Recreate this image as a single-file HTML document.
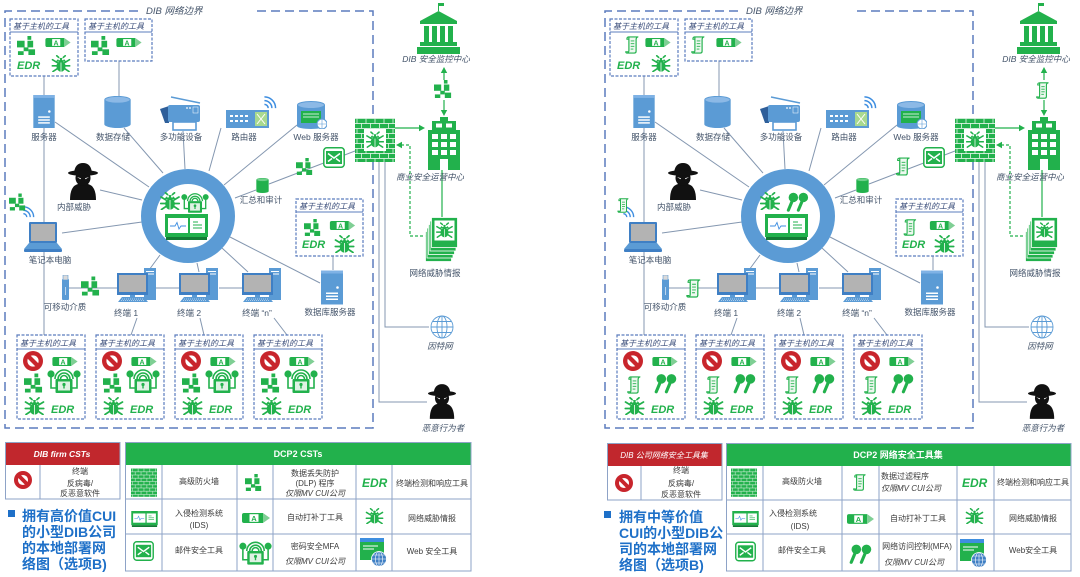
<!DOCTYPE html>
<html><head><meta charset="utf-8"><style>
html,body{margin:0;padding:0;background:#fff;width:1080px;height:577px;overflow:hidden}
svg{display:block}
.lb{font-size:8.5px;fill:#44546a;text-anchor:middle}
.li{font-size:8.5px;fill:#44546a;text-anchor:middle;font-style:italic}
.hd{font-size:8px;fill:#3a4d7a;font-style:italic}
.edr{font-size:11px;font-weight:bold;font-style:italic;fill:#22b14c}
.a{font-size:7px;font-weight:bold;fill:#22b14c;text-anchor:middle}
.lg{font-size:8px;fill:#3b3b3b;text-anchor:middle}
.lgi{font-size:8px;fill:#3b3b3b;text-anchor:middle;font-style:italic}
.tt{font-size:14px;font-weight:bold;fill:#1e70c8}
</style></head><body>
<svg width="1080" height="577" viewBox="0 0 1080 577" xmlns="http://www.w3.org/2000/svg" font-family="'Liberation Sans','Noto Sans CJK SC',sans-serif">
<defs>
<pattern id="brick" width="9" height="10" patternUnits="userSpaceOnUse"><rect width="9" height="10" fill="#22b14c"/><path d="M0 0.5H9M0 5.5H9M2 0.5V5.5M6.5 5.5V10.5" stroke="#fff" stroke-width="0.7"/></pattern>
<symbol id="dlp" viewBox="0 0 20 20"><g fill="#22b14c"><rect x="0" y="5" width="8" height="7"/><rect x="11" y="0" width="4" height="4"/><rect x="11" y="5" width="6" height="7"/><rect x="7" y="12" width="5" height="4"/><rect x="1" y="16" width="6" height="4"/><rect x="12" y="14" width="7" height="6"/></g></symbol>
<symbol id="av" viewBox="0 0 28 10"><path d="M2 0H21V10H2Q0 10 0 8V2Q0 0 2 0Z" fill="#22b14c"/><path d="M21 0L28 5L21 10Z" fill="#7fcf94"/><rect x="7.5" y="1.2" width="9" height="7.6" fill="#fff"/></symbol>
<symbol id="bug" viewBox="0 0 20 18"><g stroke="#22b14c" stroke-width="1.7" stroke-linecap="round" fill="none"><path d="M6 8L1 5M5.5 11.5H0.8M6 14.5L1.5 17.5M14 8L19 5M14.5 11.5H19.2M14 14.5L18.5 17.5M7.5 2.5L5.5 0.8M12.5 2.5L14.5 0.8"/></g><path d="M4.5 7Q10 -1 15.5 7Z" fill="#22b14c"/><ellipse cx="10" cy="12" rx="4.8" ry="5.6" fill="#22b14c"/><circle cx="8" cy="4.6" r="1" fill="#fff"/><circle cx="12" cy="4.6" r="1" fill="#fff"/><path d="M10 8V17.5" stroke="#fff" stroke-width="0.8"/></symbol>
<symbol id="lock" viewBox="0 0 34 26"><g fill="none" stroke="#22b14c" stroke-width="1.6"><path d="M4 10V21H9M30 10V21H25"/><path d="M11 12A6 6 0 0 1 23 12M8 12A9 9 0 0 1 26 12M13.5 12A3.5 3.5 0 0 1 20.5 12"/></g><circle cx="4" cy="7" r="3.6" fill="#22b14c"/><circle cx="30" cy="7" r="3.6" fill="#22b14c"/><rect x="8.5" y="12" width="17" height="14" rx="1" fill="#22b14c"/><rect x="11" y="14.5" width="12" height="9" fill="#dff2e4"/><circle cx="17" cy="17.5" r="1.6" fill="#22b14c"/><rect x="16.3" y="18" width="1.4" height="3.5" fill="#22b14c"/></symbol>
<symbol id="nos" viewBox="0 0 20 20"><circle cx="10" cy="10" r="10" fill="#c8252c"/><circle cx="10" cy="10" r="5.6" fill="#fff"/><path d="M5 5L15 15" stroke="#c8252c" stroke-width="4.2"/></symbol>
<symbol id="scr" viewBox="0 0 16 20"><path d="M4 1H14Q12 1.5 12 4V17Q12 19 10 19H2Q4 18.5 4 16Z" fill="#eef8f0" stroke="#22b14c" stroke-width="1.3" stroke-linejoin="round"/><path d="M4 1Q1.5 1 1.8 3.5H4M2 19Q0.5 19 0.5 17.5H3" fill="none" stroke="#22b14c" stroke-width="1.2"/><path d="M6 5.5H10M6 8.5H10M6 11.5H10M6 14.5H9" stroke="#22b14c" stroke-width="1"/></symbol>
<symbol id="pins" viewBox="0 0 26 22"><g stroke="#22b14c" stroke-width="3.4" stroke-linecap="round"><path d="M8.5 8L3.5 20M19.5 8L14.5 20"/></g><circle cx="9" cy="6" r="5.2" fill="#22b14c"/><circle cx="20" cy="6" r="5.2" fill="#22b14c"/></symbol>
<symbol id="srv" viewBox="0 0 22 34"><rect width="22" height="34" fill="#5b9bd5"/><rect width="22" height="3" fill="#7fb2e5"/><circle cx="16.5" cy="17" r="1.3" fill="#fff"/><g fill="#fff"><rect x="5" y="22" width="12" height="1.5"/><rect x="5" y="25" width="12" height="1.5"/><rect x="5" y="28" width="12" height="1.5"/></g></symbol>
<symbol id="term" viewBox="0 0 40 34"><rect x="27" y="0" width="12" height="32" fill="#5b9bd5"/><g fill="#fff"><rect x="29" y="3" width="8" height="1"/><rect x="29" y="5.5" width="8" height="1"/></g><rect x="0" y="5" width="31" height="22" fill="#3f7fc4"/><rect x="2" y="7" width="27" height="17" fill="#b3b3b3"/><rect x="13" y="27" width="5" height="2" fill="#5b9bd5"/><path d="M1 34L5 29H27L31 34Z" fill="#5b9bd5"/><path d="M5 31H27M4 32.5H28" stroke="#fff" stroke-width="0.5" stroke-dasharray="1 1"/></symbol>
<symbol id="cyl" viewBox="0 0 28 34"><path d="M0 4V30A14 4 0 0 0 28 30V4Z" fill="#5b9bd5"/><ellipse cx="14" cy="4" rx="13.5" ry="3.6" fill="#8cb9e6" stroke="#5b9bd5"/></symbol>
<symbol id="gcyl" viewBox="0 0 28 34"><path d="M0 4V30A14 4 0 0 0 28 30V4Z" fill="#22b14c"/><ellipse cx="14" cy="4" rx="13.5" ry="3.6" fill="#6fd08a" stroke="#22b14c"/></symbol>
<symbol id="prn" viewBox="0 0 41 35"><path d="M11 1L40 7" stroke="#5b9bd5" stroke-width="1.5"/><path d="M0 13L9 10V27L5 27Z" fill="#2f5f9a"/><rect x="8" y="9" width="32" height="17" rx="2" fill="#5b9bd5"/><circle cx="27" cy="12" r="0.9" fill="#fff"/><circle cx="30" cy="12" r="0.9" fill="#fff"/><rect x="33" y="11" width="5" height="6" fill="none" stroke="#fff" stroke-width="0.5"/><rect x="13" y="26" width="23" height="8" fill="#fff" stroke="#5b9bd5" stroke-width="1.6"/></symbol>
<symbol id="rtr" viewBox="0 0 43 18"><rect width="43" height="18" fill="#5b9bd5"/><g fill="#fff"><rect x="4" y="5" width="3" height="2"/><rect x="9" y="5" width="3" height="2"/><rect x="14" y="5" width="3" height="2"/><rect x="19" y="5" width="3" height="2"/><rect x="4" y="10" width="3" height="2"/><rect x="9" y="10" width="3" height="2"/><rect x="14" y="10" width="3" height="2"/><rect x="19" y="10" width="3" height="2"/></g><rect x="29" y="2" width="12" height="14" fill="#a8d98f"/><path d="M31 4L39 14M39 4L31 14" stroke="#fff" stroke-width="1"/></symbol>
<symbol id="wifi" viewBox="0 0 14 14"><g fill="none" stroke="#3e8ee0" stroke-width="1.6"><path d="M1 9A4 4 0 0 1 5 13M1 5A8 8 0 0 1 9 13M1 1A12 12 0 0 1 13 13"/></g></symbol>
<symbol id="web" viewBox="0 0 30 28"><path d="M0 4V25A14 3 0 0 0 28 25V4Z" fill="#5b9bd5"/><ellipse cx="14" cy="4" rx="13.5" ry="3.5" fill="#8cb9e6" stroke="#5b9bd5"/><rect x="4" y="10" width="20" height="12" fill="#22b14c"/><path d="M6 13H22M6 16H22" stroke="#fff" stroke-width="0.8"/><circle cx="25" cy="23" r="5" fill="#fff" stroke="#5b9bd5"/><path d="M20 23H30M25 18V28" stroke="#5b9bd5" stroke-width="0.6"/></symbol>
<symbol id="fw" viewBox="0 0 40 44"><rect width="40" height="44" fill="url(#brick)"/><rect x="9" y="11" width="22" height="22" fill="#fff"/><use href="#bug" x="11" y="13" width="18" height="17"/></symbol>
<symbol id="fwp" viewBox="0 0 40 44"><rect width="40" height="44" fill="url(#brick)"/></symbol>
<symbol id="mail" viewBox="0 0 22 21"><rect x="0.8" y="0.8" width="20.4" height="19.4" rx="3" fill="#fff" stroke="#22b14c" stroke-width="1.5"/><rect x="3" y="4" width="16" height="13" fill="#22b14c"/><path d="M5 6.5L11 11L17 6.5M5 14.5L9 11.5M17 14.5L13 11.5" fill="none" stroke="#fff" stroke-width="1.5"/></symbol>
<symbol id="ids" viewBox="0 0 43 26"><rect width="43" height="23" fill="#22b14c"/><rect x="3" y="4" width="20" height="15" fill="#fff"/><rect x="25" y="4" width="15" height="15" fill="#fff"/><path d="M5 12H10L12 8.5L14 15L16 12H21" fill="none" stroke="#3e8ee0" stroke-width="0.9"/><path d="M28 8H33M28 11H37M28 14H37" stroke="#22b14c" stroke-width="1"/><rect x="1" y="23" width="41" height="3" fill="#137a34"/></symbol>
<symbol id="ofc" viewBox="0 0 32 53"><g fill="#22b14c"><rect x="12" y="0" width="8" height="4"/><rect x="4" y="4" width="24" height="9"/><rect x="0" y="13" width="32" height="40"/></g><g fill="#fff"><rect x="8" y="6.5" width="6" height="4"/><rect x="18" y="6.5" width="6" height="4"/><rect x="4" y="17" width="6" height="5"/><rect x="13" y="17" width="6" height="5"/><rect x="22" y="17" width="6" height="5"/><rect x="4" y="25" width="6" height="5"/><rect x="13" y="25" width="6" height="5"/><rect x="22" y="25" width="6" height="5"/><rect x="4" y="33" width="6" height="5"/><rect x="13" y="33" width="6" height="5"/><rect x="22" y="33" width="6" height="5"/><rect x="12" y="42" width="8" height="11"/></g></symbol>
<symbol id="gov" viewBox="0 0 43 51"><g fill="#22b14c"><rect x="21" y="0" width="1" height="8"/><rect x="22" y="0" width="5" height="3"/><path d="M3 18L21.5 8L40 18Z"/><rect x="3" y="18" width="37" height="3"/><rect x="7" y="23" width="5" height="16"/><rect x="15" y="23" width="5" height="16"/><rect x="23" y="23" width="5" height="16"/><rect x="31" y="23" width="5" height="16"/><rect x="3" y="39" width="37" height="4"/><rect x="0" y="44" width="43" height="7"/></g></symbol>
<symbol id="intel" viewBox="0 0 33 45"><g fill="#22b14c" stroke="#fff" stroke-width="0.8"><rect x="0.5" y="14.5" width="26" height="30"/><rect x="2" y="11" width="26" height="30"/><rect x="3.5" y="7.5" width="26" height="30"/><rect x="5" y="4" width="26" height="30"/><rect x="6.5" y="0.5" width="26" height="30"/></g><rect x="9.5" y="3.5" width="20" height="20" fill="#fff"/><use href="#bug" x="11" y="5" width="17" height="16"/></symbol>
<symbol id="glb" viewBox="0 0 26 24"><g fill="none" stroke="#5b9bd5" stroke-width="0.9"><circle cx="13" cy="12" r="11"/><ellipse cx="13" cy="12" rx="5" ry="11"/><path d="M13 1V23M2 12H24M4 6.5H22M4 17.5H22"/></g></symbol>
<symbol id="hk" viewBox="0 0 32 38"><path d="M3 38Q3 24 11 22H21Q29 24 29 38Z" fill="#111"/><ellipse cx="16" cy="16" rx="7.5" ry="8" fill="#111"/><path d="M7 11Q8 1 16 1Q24 1 25 11Z" fill="#111"/><ellipse cx="16" cy="11" rx="15" ry="2.8" fill="#111"/><path d="M10 15L14 16.2L13.5 17.2Z M22 15L18 16.2L18.5 17.2Z" fill="#fff"/></symbol>
<symbol id="lap" viewBox="0 0 38 30"><rect x="5" y="0" width="28" height="21" rx="1" fill="#3f7fc4"/><rect x="7" y="2" width="24" height="17" fill="#b3b3b3"/><path d="M0 27L5 21H33L38 27Z" fill="#5b9bd5"/><rect x="0" y="27" width="38" height="3" rx="1" fill="#3f7fc4"/></symbol>
<symbol id="usb" viewBox="0 0 7 25"><rect x="0" y="4" width="7" height="21" rx="1" fill="#5b9bd5"/><rect x="1" y="0" width="5" height="5" fill="#d9d9d9" stroke="#5b9bd5" stroke-width="0.6"/><path d="M3.5 12V20" stroke="#fff" stroke-width="0.6"/></symbol>
<symbol id="wtool" viewBox="0 0 28 29"><rect width="24" height="22" fill="#22b14c"/><rect width="24" height="4" fill="#3e8ee0"/><path d="M3 8H18M3 11H14" stroke="#fff" stroke-width="1"/><circle cx="19" cy="21" r="7.5" fill="#3f7fc4" stroke="#fff" stroke-width="0.8"/><g fill="none" stroke="#fff" stroke-width="0.6"><ellipse cx="19" cy="21" rx="3.5" ry="7.5"/><path d="M11.5 21H26.5M19 13.5V28.5M13 17H25M13 25H25"/></g></symbol>

<g id="common">
 <path d="M138 11H5V428H373V11H254" fill="none" stroke="#5b7cbd" stroke-width="1.5" stroke-dasharray="9 5"/>
 <g stroke="#8497b0" stroke-width="1" fill="none">
  <path d="M44 76V95M119 61V96M44 128V335"/>
  <path d="M55 122L149 187M124 128L163 173M183 131L185 169M221 128L209 171M297 125L224 185M100 190L142 200M62 233L142 222M160 255L149 270M197 263L199 272M222 248L248 272M230 237L320 283M235 198L256 190M269 184L355 151"/>
  <path d="M69 288H117M156 288H179M219 288H242"/>
  <path d="M137 318L131 335M200 318L204 335M274 318L287 335M333 256V270"/>
  <path d="M379 162V402H427M385 162V327H429"/>
 </g>
 <g stroke="#22b14c" stroke-width="1.2" fill="none">
  <path d="M395 128H420M444 72V111M442 170V217"/>
  <path d="M428 236H410V145H401" stroke-dasharray="3 2"/>
 </g>
 <g fill="#22b14c">
  <path d="M425 128l-6-3.2v6.4z"/>
  <path d="M444 67l-3.2 6h6.4z"/><path d="M444 116l-3.2-6h6.4z"/>
  <path d="M396 145l6-3.2v6.4z"/>
 </g>
 <circle cx="188" cy="216" r="39.5" fill="#fff" stroke="#5b9bd5" stroke-width="15"/>
 <g fill="#fff" stroke="#5b7cbd" stroke-width="1.2" stroke-dasharray="3 1.5">
  <rect x="10" y="19" width="68" height="57"/><rect x="85" y="19" width="67" height="42"/><rect x="296" y="199" width="67" height="57"/>
  <rect x="17" y="335" width="68" height="84"/><rect x="96" y="335" width="68" height="84"/><rect x="175" y="335" width="68" height="84"/><rect x="254" y="335" width="68" height="84"/>
 </g>
 <path d="M10 32H78M85 32H152M296 212H363M17 349H85M96 349H164M175 349H243M254 349H322" stroke="#5b7cbd" stroke-width="1"/>
 <use href="#av" x="45" y="38" width="26" height="9"/><use href="#av" x="116" y="38" width="26" height="9"/><use href="#av" x="329" y="221" width="27" height="9"/>
 <use href="#av" x="52" y="357" width="26" height="9"/><use href="#av" x="131" y="357" width="26" height="9"/><use href="#av" x="210" y="357" width="26" height="9"/><use href="#av" x="289" y="357" width="26" height="9"/>
 <use href="#bug" x="51" y="55" width="20" height="17"/><use href="#bug" x="334" y="235" width="21" height="18"/>
 <use href="#bug" x="24" y="397" width="21" height="18"/><use href="#bug" x="103" y="397" width="21" height="18"/><use href="#bug" x="182" y="397" width="21" height="18"/><use href="#bug" x="261" y="397" width="21" height="18"/>
 <use href="#nos" x="23" y="351" width="20" height="20"/><use href="#nos" x="102" y="351" width="20" height="20"/><use href="#nos" x="181" y="351" width="20" height="20"/><use href="#nos" x="260" y="351" width="20" height="20"/>
 <use href="#srv" x="33" y="95" width="22" height="33"/>
 <use href="#cyl" x="104" y="96" width="27" height="32"/>
 <use href="#prn" x="160" y="96" width="41" height="35"/>
 <use href="#rtr" x="226" y="110" width="43" height="18"/>
 <use href="#wifi" x="263" y="96" width="14" height="13"/>
 <use href="#web" x="297" y="101" width="30" height="28"/>
 <use href="#fw" x="355" y="118" width="40" height="44"/>
 <use href="#mail" x="323" y="147" width="22" height="21"/>
 <use href="#gcyl" x="256" y="178" width="13" height="15"/>
 <use href="#hk" x="67" y="162" width="32" height="38"/>
 <use href="#lap" x="24" y="222" width="38" height="30"/>
 <use href="#wifi" x="22" y="206" width="13" height="12"/>
 <use href="#usb" x="62" y="275" width="7" height="25"/>
 <use href="#term" x="117" y="268" width="40" height="34"/><use href="#term" x="179" y="268" width="40" height="34"/><use href="#term" x="242" y="268" width="40" height="34"/>
 <use href="#srv" x="321" y="270" width="22" height="35"/>
 <use href="#gov" x="417" y="3" width="43" height="51"/>
 <rect x="433" y="80" width="22" height="20" fill="#fff"/>
 <use href="#ofc" x="428" y="117" width="32" height="53"/>
 <use href="#intel" x="425" y="217" width="33" height="45"/>
 <use href="#glb" x="429" y="315" width="26" height="24"/>
 <use href="#hk" x="427" y="382" width="30" height="38"/>
 <use href="#bug" x="160" y="192" width="20" height="18"/>
 <use href="#ids" x="165" y="214" width="43" height="26"/>
</g>
</defs>

<rect width="1080" height="577" fill="#fff"/>
<use href="#common"/>
<use href="#common" x="600"/>

<!-- LEFT specific -->
<g>
 <use href="#dlp" x="17" y="36" width="19" height="19"/><use href="#dlp" x="91" y="36" width="19" height="19"/><use href="#dlp" x="303" y="219" width="19" height="17"/>
 <use href="#dlp" x="24" y="373" width="19" height="20"/><use href="#dlp" x="103" y="373" width="19" height="20"/><use href="#dlp" x="182" y="373" width="19" height="20"/><use href="#dlp" x="261" y="373" width="19" height="20"/>
 <use href="#lock" x="47" y="367" width="34" height="26"/><use href="#lock" x="126" y="367" width="34" height="26"/><use href="#lock" x="205" y="367" width="34" height="26"/><use href="#lock" x="284" y="367" width="34" height="26"/>
 <use href="#dlp" x="296" y="156" width="17" height="21"/>
 <use href="#dlp" x="9" y="193" width="17" height="18"/>
 <use href="#dlp" x="81" y="276" width="19" height="20"/>
 <use href="#dlp" x="434" y="79" width="18" height="20"/>
 <use href="#lock" x="181" y="191" width="28" height="22"/>
</g>
<!-- RIGHT specific -->
<g transform="translate(600,0)">
 <use href="#scr" x="25" y="36" width="15" height="18"/><use href="#scr" x="91" y="36" width="15" height="18"/><use href="#scr" x="303" y="219" width="15" height="17"/>
 <use href="#scr" x="27" y="376" width="15" height="18"/><use href="#scr" x="106" y="376" width="15" height="18"/><use href="#scr" x="185" y="376" width="15" height="18"/><use href="#scr" x="264" y="376" width="15" height="18"/>
 <use href="#pins" x="53" y="373" width="24" height="21"/><use href="#pins" x="132" y="373" width="24" height="21"/><use href="#pins" x="211" y="373" width="24" height="21"/><use href="#pins" x="290" y="373" width="24" height="21"/>
 <use href="#scr" x="296" y="157" width="15" height="19"/>
 <use href="#scr" x="17" y="198" width="13" height="15"/>
 <use href="#scr" x="86" y="279" width="16" height="19"/>
 <use href="#scr" x="436" y="82" width="14" height="17"/>
 <use href="#pins" x="184" y="192" width="26" height="20"/>
</g>

<!-- texts both sides -->
<g>
 <text x="146" y="14" class="hd" style="font-size:9.5px;fill:#44546a">DIB 网络边界</text>
 <text x="13" y="29" class="hd">基于主机的工具</text><text x="88" y="29" class="hd">基于主机的工具</text><text x="299" y="209" class="hd">基于主机的工具</text>
 <text x="20" y="346" class="hd">基于主机的工具</text><text x="99" y="346" class="hd">基于主机的工具</text><text x="178" y="346" class="hd">基于主机的工具</text><text x="257" y="346" class="hd">基于主机的工具</text>
 <text x="56" y="45.6" class="a">A</text><text x="127" y="45.6" class="a">A</text><text x="340.5" y="228.6" class="a">A</text>
 <text x="63" y="364.6" class="a">A</text><text x="142" y="364.6" class="a">A</text><text x="221" y="364.6" class="a">A</text><text x="300" y="364.6" class="a">A</text>
 <text x="17" y="69" class="edr">EDR</text><text x="302" y="248" class="edr">EDR</text>
 <text x="51" y="413" class="edr">EDR</text><text x="130" y="413" class="edr">EDR</text><text x="209" y="413" class="edr">EDR</text><text x="288" y="413" class="edr">EDR</text>
 <text x="44" y="140" class="lb">服务器</text><text x="113" y="140" class="lb">数据存储</text><text x="181" y="140" class="lb">多功能设备</text><text x="244" y="140" class="lb">路由器</text><text x="316" y="140" class="lb">Web 服务器</text>
 <text x="74" y="210" class="lb">内部威胁</text><text x="261" y="203" class="lb">汇总和审计</text><text x="50" y="263" class="lb">笔记本电脑</text><text x="65" y="310" class="lb">可移动介质</text>
 <text x="126" y="316" class="lb">终端  1</text><text x="189" y="316" class="lb">终端  2</text><text x="257" y="316" class="lb">终端 “n”</text><text x="330" y="315" class="lb">数据库服务器</text>
 <text x="435" y="276" class="lb">网络威胁情报</text>
 <text x="436" y="62" class="li">DIB 安全监控中心</text><text x="430" y="180" class="li">商业安全运营中心</text><text x="440" y="349" class="li">因特网</text><text x="443" y="431" class="li">恶意行为者</text>
</g>
<g transform="translate(600,0)">
 <text x="146" y="14" class="hd" style="font-size:9.5px;fill:#44546a">DIB 网络边界</text>
 <text x="13" y="29" class="hd">基于主机的工具</text><text x="88" y="29" class="hd">基于主机的工具</text><text x="299" y="209" class="hd">基于主机的工具</text>
 <text x="20" y="346" class="hd">基于主机的工具</text><text x="99" y="346" class="hd">基于主机的工具</text><text x="178" y="346" class="hd">基于主机的工具</text><text x="257" y="346" class="hd">基于主机的工具</text>
 <text x="56" y="45.6" class="a">A</text><text x="127" y="45.6" class="a">A</text><text x="340.5" y="228.6" class="a">A</text>
 <text x="63" y="364.6" class="a">A</text><text x="142" y="364.6" class="a">A</text><text x="221" y="364.6" class="a">A</text><text x="300" y="364.6" class="a">A</text>
 <text x="17" y="69" class="edr">EDR</text><text x="302" y="248" class="edr">EDR</text>
 <text x="51" y="413" class="edr">EDR</text><text x="130" y="413" class="edr">EDR</text><text x="209" y="413" class="edr">EDR</text><text x="288" y="413" class="edr">EDR</text>
 <text x="44" y="140" class="lb">服务器</text><text x="113" y="140" class="lb">数据存储</text><text x="181" y="140" class="lb">多功能设备</text><text x="244" y="140" class="lb">路由器</text><text x="316" y="140" class="lb">Web 服务器</text>
 <text x="74" y="210" class="lb">内部威胁</text><text x="261" y="203" class="lb">汇总和审计</text><text x="50" y="263" class="lb">笔记本电脑</text><text x="65" y="310" class="lb">可移动介质</text>
 <text x="126" y="316" class="lb">终端  1</text><text x="189" y="316" class="lb">终端  2</text><text x="257" y="316" class="lb">终端 “n”</text><text x="330" y="315" class="lb">数据库服务器</text>
 <text x="435" y="276" class="lb">网络威胁情报</text>
 <text x="436" y="62" class="li">DIB 安全监控中心</text><text x="430" y="180" class="li">商业安全运营中心</text><text x="440" y="349" class="li">因特网</text><text x="443" y="431" class="li">恶意行为者</text>
</g>

<!-- LEFT LEGEND -->
<g>
 <rect x="5" y="442" width="115" height="23" fill="#c1272d"/>
 <rect x="5.5" y="442.5" width="114.5" height="56.5" fill="none" stroke="#8ea3c7"/>
 <path d="M40 465V499" stroke="#8ea3c7"/>
 <text x="62" y="457" fill="#fff" font-size="8.5" font-weight="bold" font-style="italic" text-anchor="middle">DIB firm CSTs</text>
 <use href="#nos" x="14" y="471" width="18" height="18"/>
 <text x="80" y="474" class="lg">终端</text><text x="80" y="486" class="lg">反病毒/</text><text x="80" y="496" class="lg">反恶意软件</text>

 <rect x="125" y="442" width="346" height="23" fill="#22b14c"/>
 <rect x="125.5" y="442.5" width="345.5" height="128.5" fill="none" stroke="#8ea3c7"/>
 <path d="M125 499H471M125 534H471M162 465V571M237 465V571M273 465V571M356 465V571M392 465V571" stroke="#8ea3c7"/>
 <text x="298" y="457" fill="#fff" font-size="9" font-weight="bold" text-anchor="middle">DCP2 CSTs</text>
 <use href="#fwp" x="131" y="468" width="26" height="29"/>
 <text x="199" y="484" class="lg">高级防火墙</text>
 <use href="#dlp" x="244" y="474" width="19" height="17"/>
 <text x="315" y="476" class="lg">数据丢失防护</text><text x="315" y="486" class="lg">(DLP) 程序</text><text x="315" y="496" class="lgi">仅限MV CUI公司</text>
 <text x="362" y="487" class="edr" style="font-size:12px">EDR</text>
 <text x="432" y="486" class="lg">终端检测和响应工具</text>
 <use href="#ids" x="130" y="511" width="29" height="16"/>
 <text x="199" y="516" class="lg">入侵检测系统</text><text x="199" y="528" class="lg">(IDS)</text>
 <use href="#av" x="242" y="513" width="28" height="10"/><text x="254" y="521" class="a" style="font-size:7.5px">A</text>
 <text x="315" y="520" class="lg">自动打补丁工具</text>
 <use href="#bug" x="365" y="508" width="19" height="16"/>
 <text x="432" y="521" class="lg">网络威胁情报</text>
 <use href="#mail" x="133" y="541" width="21" height="20"/>
 <text x="199" y="553" class="lg">邮件安全工具</text>
 <use href="#lock" x="239" y="538" width="33" height="28"/>
 <text x="315" y="549" class="lg">密码安全MFA</text><text x="315" y="564" class="lgi">仅限MV CUI公司</text>
 <use href="#wtool" x="360" y="538" width="28" height="29"/>
 <text x="432" y="554" class="lg">Web 安全工具</text>

 <rect x="8" y="510" width="7" height="7" fill="#1e70c8"/>
 <text x="22" y="521" class="tt">拥有高价值CUI</text>
 <text x="22" y="537" class="tt">的小型DIB公司</text>
 <text x="22" y="553" class="tt">的本地部署网</text>
 <text x="22" y="569" class="tt">络图（选项B)</text>
</g>

<!-- RIGHT LEGEND -->
<g>
 <rect x="607" y="443" width="115" height="23" fill="#c1272d"/>
 <rect x="607.5" y="443.5" width="114.5" height="56.5" fill="none" stroke="#8ea3c7"/>
 <path d="M641 466V500" stroke="#8ea3c7"/>
 <text x="664" y="458" fill="#fff" font-size="8" font-style="italic" text-anchor="middle">DIB 公司网络安全工具集</text>
 <use href="#nos" x="615" y="474" width="18" height="18"/>
 <text x="681" y="473" class="lg">终端</text><text x="681" y="486" class="lg">反病毒/</text><text x="681" y="497" class="lg">反恶意软件</text>

 <rect x="726" y="443" width="345" height="23" fill="#22b14c"/>
 <rect x="726.5" y="443.5" width="344.5" height="127.5" fill="none" stroke="#8ea3c7"/>
 <path d="M726 500H1071M726 534H1071M763 466V571M842 466V571M879 466V571M957 466V571M994 466V571" stroke="#8ea3c7"/>
 <text x="898" y="458" fill="#fff" font-size="9" font-weight="bold" text-anchor="middle">DCP2 网络安全工具集</text>
 <use href="#fwp" x="731" y="468" width="26" height="29"/>
 <text x="802" y="484" class="lg">高级防火墙</text>
 <use href="#scr" x="853" y="474" width="14" height="17"/>
 <text x="881" y="479" class="lg" style="text-anchor:start">数据过滤程序</text>
 <text x="881" y="491" class="lgi" style="text-anchor:start">仅限MV CUI公司</text>
 <text x="962" y="487" class="edr" style="font-size:12px">EDR</text>
 <text x="1033" y="485" class="lg">终端检测和响应工具</text>
 <use href="#ids" x="731" y="511" width="29" height="16"/>
 <text x="793" y="516" class="lg">入侵检测系统</text><text x="800" y="529" class="lg">(IDS)</text>
 <use href="#av" x="847" y="514" width="27" height="10"/><text x="858.5" y="522" class="a" style="font-size:7.5px">A</text>
 <text x="918" y="521" class="lg">自动打补丁工具</text>
 <use href="#bug" x="965" y="508" width="19" height="16"/>
 <text x="1033" y="521" class="lg">网络威胁情报</text>
 <use href="#mail" x="735" y="541" width="21" height="21"/>
 <text x="802" y="553" class="lg">邮件安全工具</text>
 <use href="#pins" x="848" y="543" width="24" height="22"/>
 <text x="917" y="549" class="lg">网络访问控制(MFA)</text><text x="914" y="565" class="lgi">仅限MV CUI公司</text>
 <use href="#wtool" x="960" y="539" width="28" height="29"/>
 <text x="1033" y="553" class="lg">Web安全工具</text>

 <rect x="604" y="511" width="7" height="7" fill="#1e70c8"/>
 <text x="619" y="522" class="tt">拥有中等价值</text>
 <text x="619" y="538" class="tt">CUI的小型DIB公</text>
 <text x="619" y="554" class="tt">司的本地部署网</text>
 <text x="619" y="570" class="tt">络图（选项B)</text>
</g>
</svg>
</body></html>
